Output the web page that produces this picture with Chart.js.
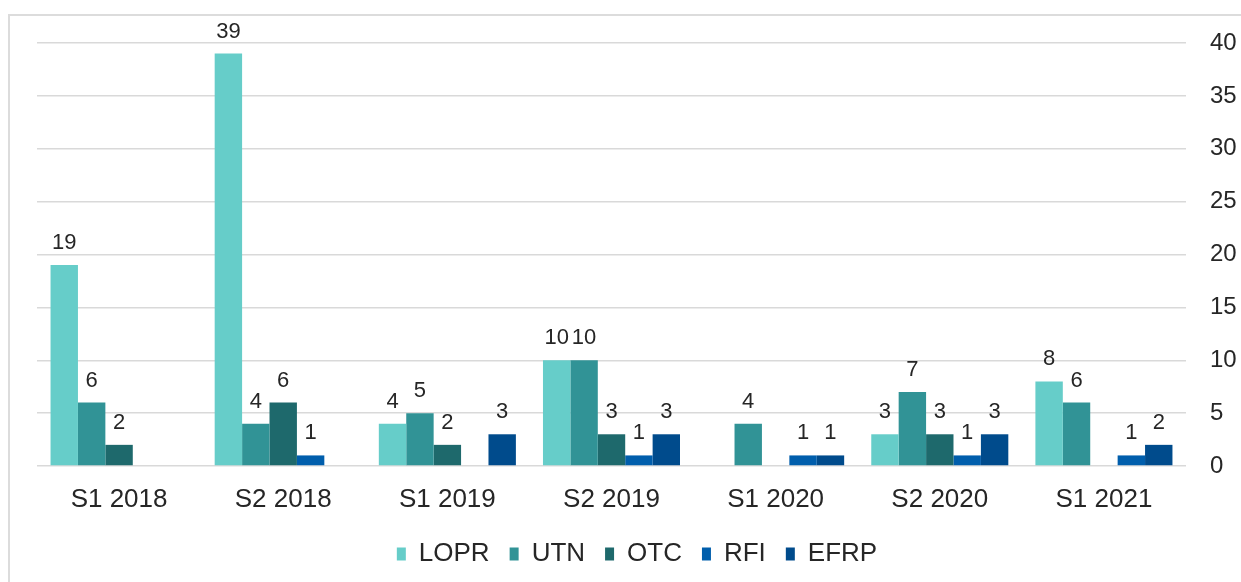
<!DOCTYPE html>
<html>
<head>
<meta charset="utf-8">
<script src="https://cdn.jsdelivr.net/npm/chart.js@4.4.0/dist/chart.umd.min.js"></script>
<style>
  html, body { margin: 0; padding: 0; background: #ffffff; overflow: hidden; }
  #frame { position: absolute; left: 8px; top: 14px; width: 1400px; height: 800px; border: 2px solid #dcdcdc; box-sizing: border-box; }
  #wrap { position: absolute; left: 0; top: 0; width: 1241px; height: 582px; }
</style>
</head>
<body>
<div id="frame"></div>
<div id="wrap"><canvas id="c" width="1241" height="582"></canvas></div>
<script>
const categories = ["S1 2018", "S2 2018", "S1 2019", "S2 2019", "S1 2020", "S2 2020", "S1 2021"];
const seriesNames = ["LOPR", "UTN", "OTC", "RFI", "EFRP"];
const lopr = [19, 39, 4, 10, null, 3, 8];
const utn  = [6, 4, 5, 10, 4, 7, 6];
const otc  = [2, 6, 2, 3, null, 3, null];
const rfi  = [null, 1, null, 1, 1, 1, 1];
const efrp = [null, null, 3, 3, 1, 3, 2];
const yTicks = [0, 5, 10, 15, 20, 25, 30, 35, 40];
const colors = ["#66cdc9", "#319396", "#1e696c", "#005eac", "#004b8c"];

const seriesValues = [lopr, utn, otc, rfi, efrp];
const textColor = '#262626';

const labelPlugin = {
  id: 'barLabels',
  afterDatasetsDraw(chart) {
    const ctx = chart.ctx;
    ctx.save();
    ctx.font = '22px "Liberation Sans", Arial, sans-serif';
    ctx.fillStyle = textColor;
    ctx.textAlign = 'center';
    ctx.textBaseline = 'alphabetic';
    chart.data.datasets.forEach((ds, i) => {
      const meta = chart.getDatasetMeta(i);
      meta.data.forEach((el, j) => {
        const v = ds.data[j];
        if (v === null || v === undefined || v === 0) return;
        ctx.fillText(String(v), el.x, el.y - 16);
      });
    });
    ctx.restore();
  }
};

new Chart(document.getElementById('c'), {
  type: 'bar',
  data: {
    labels: categories,
    datasets: seriesNames.map((n, i) => ({
      label: n,
      data: seriesValues[i],
      backgroundColor: colors[i],
      borderWidth: 0,
      categoryPercentage: 0.835,
      barPercentage: 1.0
    }))
  },
  options: {
    responsive: false,
    animation: false,
    devicePixelRatio: 1,
    layout: { padding: { left: 37, top: 43, right: 4, bottom: 5 } },
    plugins: {
      title: { display: false },
      tooltip: { enabled: false },
      legend: {
        position: 'bottom',
        labels: {
          boxWidth: 9,
          boxHeight: 13,
          padding: 20,
          color: textColor,
          font: { family: '"Liberation Sans", Arial, sans-serif', size: 26 }
        }
      }
    },
    scales: {
      x: {
        grid: { display: false },
        border: { display: false },
        ticks: {
          color: textColor,
          padding: 10,
          font: { family: '"Liberation Sans", Arial, sans-serif', size: 26 }
        },
        afterFit(scale) { scale.height = 55; }
      },
      y: {
        position: 'right',
        min: 0,
        max: 40,
        afterBuildTicks(scale) { scale.ticks = yTicks.map(v => ({ value: v })); },
        grid: { color: '#d9d9d9', lineWidth: 1.5, drawTicks: false },
        border: { display: false },
        ticks: {
          color: textColor,
          padding: 24,
          font: { family: '"Liberation Sans", Arial, sans-serif', size: 24 }
        },
        afterFit(scale) { scale.width = 51; }
      }
    }
  },
  plugins: [labelPlugin]
});
</script>
</body>
</html>
